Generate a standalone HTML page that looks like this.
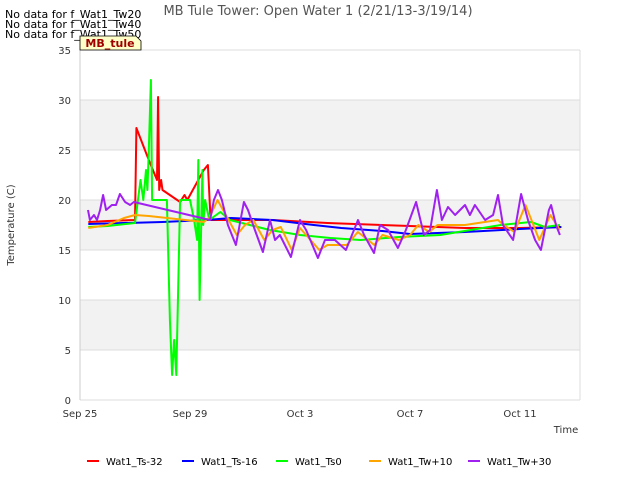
<!DOCTYPE html>
<html><head><meta charset="utf-8"><style>
body{margin:0;background:#fff;font-family:"Liberation Sans","DejaVu Sans",sans-serif;}
svg text{font-family:"DejaVu Sans","Liberation Sans",sans-serif;}
</style></head><body>
<svg id="chart" width="640" height="480" viewBox="0 0 640 480">
<text x="318" y="15" text-anchor="middle" font-size="13" fill="#555">MB Tule Tower: Open Water 1 (2/21/13-3/19/14)</text>
<g font-size="11" fill="#000">
<text x="5" y="18">No data for f_Wat1_Tw20</text>
<text x="5" y="28">No data for f_Wat1_Tw40</text>
<text x="5" y="38">No data for f_Wat1_Tw50</text>
</g>
<g id="plot"></g>
<g>
<path d="M80,36 L136,36 L141,41 L141,50 L80,50 Z" fill="#ffffc8" stroke="#000" stroke-width="0.8"/>
<text x="110" y="47" text-anchor="middle" font-size="11" font-weight="bold" fill="#a00000">MB_tule</text>
</g>
<text x="14" y="225" transform="rotate(-90 14 225)" text-anchor="middle" font-size="10" fill="#333">Temperature (C)</text>
<text x="566" y="433" text-anchor="middle" font-size="10" fill="#333">Time</text>
<g id="legend"></g>
</svg>
<script>
const yTicks=[0,5,10,15,20,25,30,35];
const xTickDays=[0,4,8,12,16];
const xTickLabels=["Sep 25","Sep 29","Oct 3","Oct 7","Oct 11"];
const seriesNames=["Wat1_Ts-32","Wat1_Ts-16","Wat1_Ts0","Wat1_Tw+10","Wat1_Tw+30"];
const seriesColors=["#ff0000","#0000ff","#00ff00","#ffa500","#a020f0"];
const ts32Days=[0.3,1.0,2.0,2.05,2.5,2.8,2.84,2.88,2.95,3.0,3.64,3.8,3.9,4.5,4.65,4.75,5.0,7.0,9.0,12.0,14.0,16.0,17.5];
const ts32Vals=[17.8,17.9,18.0,27.2,24,22,30.3,21,22,21,19.8,20.5,20,23,23.5,18,18,18,17.7,17.4,17.2,17.2,17.3];
const ts16Days=[0.3,3.0,4.6,5.5,7.0,8.5,9.5,11.0,12.0,14.0,16.0,17.5];
const ts16Vals=[17.6,17.8,18.0,18.2,18.0,17.5,17.2,16.9,16.6,16.8,17.1,17.3];
const ts0Days=[0.3,1.0,2.0,2.2,2.3,2.4,2.45,2.5,2.58,2.62,2.9,3.16,3.27,3.35,3.42,3.5,3.64,4.0,4.15,4.26,4.3,4.35,4.45,4.48,4.55,4.7,5.1,5.45,6.9,8.0,9.1,10.2,11.6,13.1,14.2,15.3,16.4,16.9,17.45];
const ts0Vals=[17.3,17.4,17.7,22,20,23,21,25,32,20,20,20,8,2.5,6,2.5,20,20,18,16,24,10,23,17.5,20,18,18.8,18,17,16.5,16.2,16,16.3,16.5,17,17.5,17.8,17.3,17.5];
const tw10Days=[0.3,1.0,1.6,2.0,2.5,4.5,4.7,5.0,5.3,5.7,6.0,6.3,6.7,7.0,7.3,7.7,8.0,8.7,9.0,9.7,10.1,10.7,11.0,11.6,12.0,12.3,12.7,13.0,14.0,15.2,15.4,15.8,16.2,16.7,17.1,17.45];
const tw10Vals=[17.2,17.5,18.2,18.5,18.4,17.8,18.2,20,18.5,16.5,17.5,18,16,17,17.3,15,17.2,15,15.5,15.5,16.8,15.5,16.5,16,16.5,17.5,16.8,17.5,17.5,18,17.5,16.8,19.5,16,18.5,17];
const tw30Days=[0.29,0.36,0.51,0.62,0.73,0.84,0.95,1.16,1.31,1.45,1.64,1.82,1.96,4.73,4.87,5.02,5.16,5.38,5.67,5.96,6.11,6.36,6.65,6.91,7.09,7.27,7.67,8.0,8.22,8.65,8.91,9.27,9.67,10.11,10.33,10.69,10.91,11.2,11.56,11.85,12.22,12.51,12.73,12.98,13.16,13.38,13.64,14.0,14.18,14.36,14.73,15.02,15.2,15.38,15.75,16.04,16.29,16.55,16.76,17.05,17.13,17.31,17.45];
const tw30Vals=[19,18,18.5,18,19,20.5,19,19.5,19.5,20.6,19.8,19.5,19.8,18,20,21,20,17.5,15.5,19.8,19,17,14.8,18,16,16.5,14.3,18,17,14.2,16,16,15,18,16.5,14.7,17.5,17,15.2,17,19.8,16.5,17,21,18,19.3,18.5,19.5,18.5,19.5,18,18.5,20.5,17.5,16,20.6,18,16,15,19,19.5,17.5,16.5];
const allDays=[ts32Days,ts16Days,ts0Days,tw10Days,tw30Days];
const allVals=[ts32Vals,ts16Vals,ts0Vals,tw10Vals,tw30Vals];

const NS="http://www.w3.org/2000/svg";
const L=80,R=580,T=50,B=400;
const xS=d=>L+d*27.5;
const yS=v=>B-(v/35)*(B-T);
const plot=document.getElementById('plot');
function mk(tag,attrs,parent){const e=document.createElementNS(NS,tag);for(const k in attrs)e.setAttribute(k,attrs[k]);parent.appendChild(e);return e;}
const bg=mk('rect',{x:L,y:T,width:R-L,height:B-T,fill:'#fff'},plot);


for(let i=0;i<yTicks.length-1;i++){
  if(i%2===1){const band=mk('rect',{x:L,y:yS(yTicks[i+1]),width:R-L,height:yS(yTicks[i])-yS(yTicks[i+1]),fill:'#f2f2f2'},plot);
  
  }
}
yTicks.forEach(v=>{
  const g=mk('line',{x1:L,x2:R,y1:yS(v),y2:yS(v),stroke:'#dcdcdc','stroke-width':1},plot);
  
  
  const t=mk('text',{x:L-9,y:yS(v)+4,'text-anchor':'end','font-size':'10',fill:'#333'},plot);
  t.textContent=v;
  
  
});
mk('line',{x1:R,x2:R,y1:T,y2:B,stroke:'#dcdcdc'},plot);
const ax=mk('line',{x1:L,x2:L,y1:T,y2:B,stroke:'#ccc'},plot);


xTickDays.forEach((d,i)=>{
  const t=mk('text',{x:xS(d),y:B+17,'text-anchor':'middle','font-size':'10',fill:'#333'},plot);
  t.textContent=xTickLabels[i];
  
  
});
allDays.forEach((ds,s)=>{
  const pts=ds.map((d,i)=>xS(d).toFixed(1)+','+yS(allVals[s][i]).toFixed(1)).join(' ');
  const p=mk('polyline',{points:pts,fill:'none',stroke:seriesColors[s],'stroke-width':2,'stroke-linejoin':'round'},plot);
  
  
});
const lg=document.getElementById('legend');
const lx=[87,182,276,369,468];
seriesNames.forEach((n,i)=>{
  const g=mk('g',{},lg);
  
  
  mk('line',{x1:lx[i],x2:lx[i]+12,y1:461,y2:461,stroke:seriesColors[i],'stroke-width':2},g);
  const t=mk('text',{x:lx[i]+19,y:465,'font-size':'10',fill:'#000'},g);
  t.textContent=n;
});
</script>
</body></html>
